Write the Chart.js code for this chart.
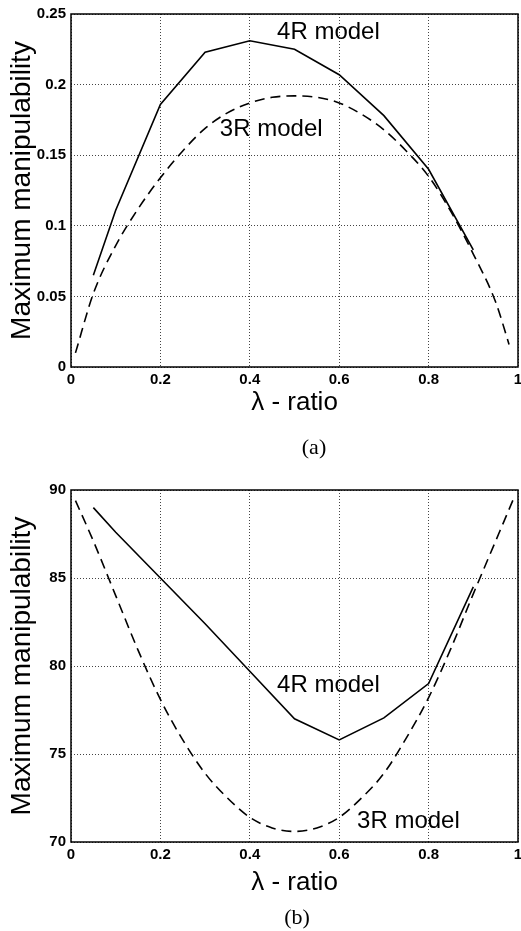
<!DOCTYPE html>
<html>
<head>
<meta charset="utf-8">
<script src="https://cdn.jsdelivr.net/npm/chart.js@4"></script>
<style>
  body { margin: 0; background: #fff; width: 521px; height: 931px; position: relative; overflow: hidden; }
  canvas { position: absolute; left: 0; }
  #chartA { top: 0; }
  #chartB { top: 470px; }
  .cap { position: absolute; font-family: "Liberation Serif", "Times New Roman", serif; font-size: 22px; transform: translate(-50%, -50%); }
</style>
</head>
<body>
<canvas id="chartA" width="521" height="470"></canvas>
<canvas id="chartB" width="521" height="461"></canvas>
<div class="cap" style="left:314px;top:447px">(a)</div>
<div class="cap" style="left:297px;top:917px">(b)</div>
<script>
// values
const xTicks = [0, 0.2, 0.4, 0.6, 0.8, 1];

// (a) manipulability
const yTicksA = [0, 0.05, 0.1, 0.15, 0.2, 0.25];
const lambda4A = [0.05, 0.1, 0.2, 0.3, 0.4, 0.5, 0.6, 0.7, 0.8, 0.9];
const value4A = [0.065, 0.111, 0.186, 0.223, 0.231, 0.225, 0.207, 0.178, 0.140, 0.083];
const lambda3A = [0.01, 0.05, 0.1, 0.15, 0.2, 0.25, 0.3, 0.35, 0.4, 0.45, 0.5, 0.55, 0.6, 0.65, 0.7, 0.75, 0.8, 0.85, 0.9, 0.95, 0.98];
const value3A = [0.010, 0.052, 0.086, 0.112, 0.134, 0.153, 0.169, 0.180, 0.187, 0.191, 0.192, 0.191, 0.187, 0.179, 0.168, 0.153, 0.135, 0.110, 0.080, 0.046, 0.016];

// (b) manipulability angle
const yTicksB = [70, 75, 80, 85, 90];
const lambda4B = [0.05, 0.1, 0.2, 0.3, 0.4, 0.5, 0.6, 0.7, 0.8, 0.9];
const value4B = [89.0, 87.6, 85.0, 82.4, 79.7, 77.0, 75.8, 77.05, 79.0, 84.5];
const lambda3B = [0.01, 0.05, 0.1, 0.15, 0.2, 0.25, 0.3, 0.35, 0.4, 0.45, 0.5, 0.55, 0.6, 0.65, 0.7, 0.75, 0.8, 0.85, 0.9, 0.95, 0.99];
const value3B = [89.4, 87.1, 84.0, 80.9, 78.1, 75.8, 73.9, 72.5, 71.4, 70.8, 70.6, 70.8, 71.4, 72.5, 73.9, 75.9, 78.2, 81.0, 84.1, 87.1, 89.5];

const SANS = '"Liberation Sans", Arial, sans-serif';

const pts = (xs, ys) => xs.map((x, i) => ({ x, y: ys[i] }));

// box around the plot area
const framePlugin = {
  id: "frame",
  afterDatasetsDraw(chart) {
    const { ctx, chartArea: a } = chart;
    ctx.save();
    ctx.strokeStyle = "#000";
    ctx.lineWidth = 1.5;
    ctx.strokeRect(a.left, a.top, a.right - a.left, a.bottom - a.top);
    ctx.restore();
  }
};

// "4R model" / "3R model" text inside the plot
const notesPlugin = {
  id: "notes",
  afterDatasetsDraw(chart, args, opts) {
    const { ctx, scales } = chart;
    ctx.save();
    ctx.font = "24px " + SANS;
    ctx.fillStyle = "#000";
    ctx.textBaseline = "middle";
    (opts.items || []).forEach(n => {
      ctx.fillText(n.text, scales.x.getPixelForValue(n.x), scales.y.getPixelForValue(n.y));
    });
    ctx.restore();
  }
};

function makeChart(id, s4, s3, yTicks, cfg) {
  return new Chart(document.getElementById(id), {
    type: "line",
    data: {
      datasets: [
        {
          label: "4R model",
          data: s4,
          borderColor: "#000",
          borderWidth: 1.6,
          pointRadius: 0,
          tension: 0,
          fill: false
        },
        {
          label: "3R model",
          data: s3,
          borderColor: "#000",
          borderWidth: 1.6,
          borderDash: [10, 6],
          pointRadius: 0,
          cubicInterpolationMode: "monotone",
          fill: false
        }
      ]
    },
    options: {
      responsive: false,
      animation: false,
      layout: { padding: { top: cfg.top, right: 3, bottom: 0, left: 0 } },
      plugins: {
        legend: { display: false },
        tooltip: { enabled: false },
        notes: { items: cfg.notes }
      },
      scales: {
        x: {
          type: "linear",
          min: 0,
          max: 1,
          afterBuildTicks: s => { s.ticks = xTicks.map(v => ({ value: v })); },
          afterFit: s => { s.height = cfg.xHeight; s.paddingLeft = 0; s.paddingRight = 0; },
          grid: { color: "#444", lineWidth: 1, drawTicks: false },
          border: { display: false, dash: [1, 2] },
          ticks: {
            padding: 4,
            color: "#000",
            font: { family: SANS, size: 15, weight: "bold" },
            maxRotation: 0,
            autoSkip: false,
            callback: v => String(+v.toFixed(2))
          },
          title: {
            display: true,
            text: "λ - ratio",
            color: "#000",
            font: { family: SANS, size: 26 },
            padding: { top: 0, bottom: cfg.xTitlePad }
          }
        },
        y: {
          type: "linear",
          min: yTicks[0],
          max: yTicks[yTicks.length - 1],
          afterBuildTicks: s => { s.ticks = yTicks.map(v => ({ value: v })); },
          afterFit: s => { s.width = 71; s.paddingTop = 0; s.paddingBottom = 0; },
          grid: { color: "#444", lineWidth: 1, drawTicks: false },
          border: { display: false, dash: [1, 2] },
          ticks: {
            padding: 5,
            color: "#000",
            font: { family: SANS, size: 15, weight: "bold" },
            autoSkip: false,
            callback: v => String(+v.toFixed(2))
          },
          title: {
            display: true,
            text: "Maximum manipulability",
            color: "#000",
            font: { family: SANS, size: 28 },
            padding: { top: 5, bottom: 0 }
          }
        }
      }
    },
    plugins: [framePlugin, notesPlugin]
  });
}

makeChart("chartA", pts(lambda4A, value4A), pts(lambda3A, value3A), yTicksA, {
  top: 14,
  xHeight: 103,
  xTitlePad: 52,
  notes: [
    { text: "4R model", x: 0.461, y: 0.237 },
    { text: "3R model", x: 0.333, y: 0.168 }
  ]
});

makeChart("chartB", pts(lambda4B, value4B), pts(lambda3B, value3B), yTicksB, {
  top: 20,
  xHeight: 89,
  xTitlePad: 33,
  notes: [
    { text: "4R model", x: 0.461, y: 78.9 },
    { text: "3R model", x: 0.64, y: 71.15 }
  ]
});
</script>
</body>
</html>
